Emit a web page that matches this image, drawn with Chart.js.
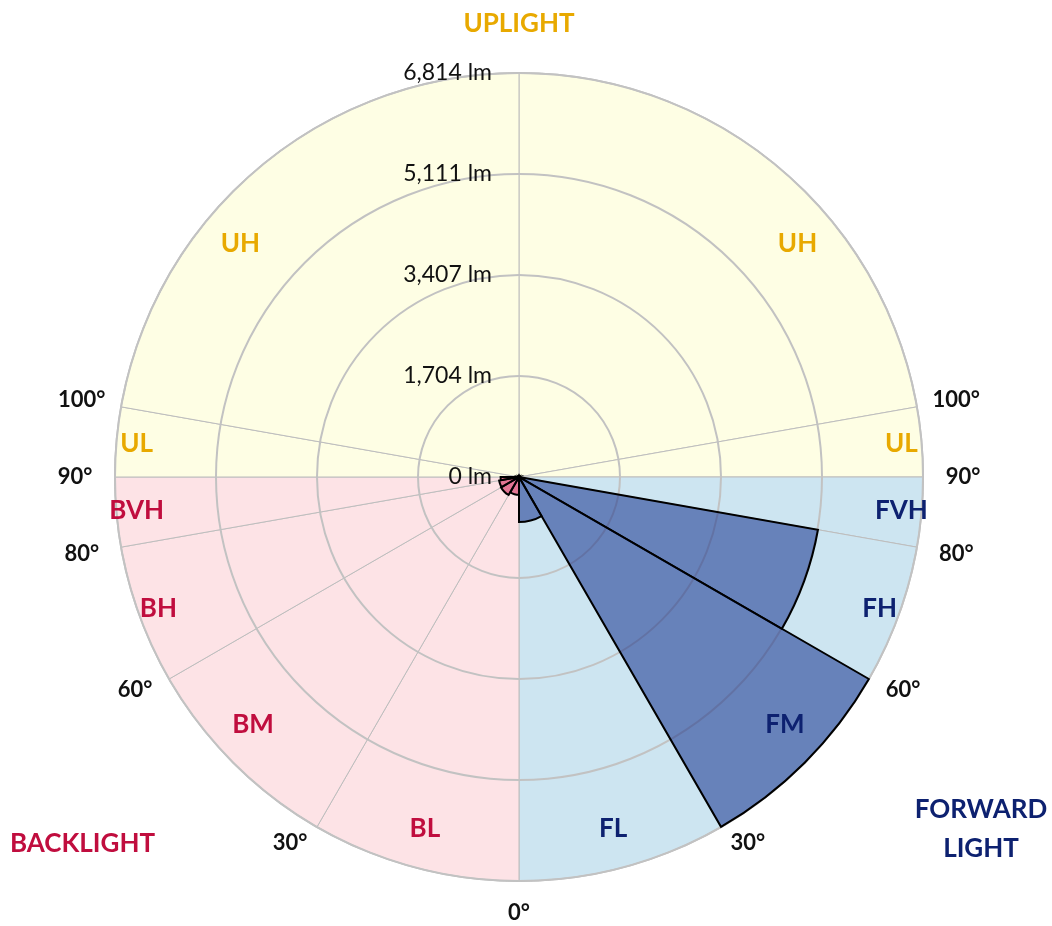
<!DOCTYPE html>
<html>
<head>
<meta charset="utf-8">
<script src="https://cdn.jsdelivr.net/npm/chart.js@4"></script>
<style>
  html, body { margin: 0; padding: 0; background: #fff; }
  #wrap { width: 1052px; height: 926px; position: relative; }
</style>
</head>
<body>
<div id="wrap"><canvas id="bugChart"></canvas></div>
<script>
// zones clockwise from the top of the chart (right side first, then left side)
const zoneNames = ["UH", "UL", "FVH", "FH", "FM", "FL", "BL", "BM", "BH", "BVH", "UL", "UH"];
const zoneAngles = [80, 10, 10, 20, 30, 30, 30, 30, 20, 10, 10, 80];
const lumens = [0, 0, 0, 5120, 6814, 760, 300, 350, 340, 310, 0, 0];
const maxLumens = 6814;
const tickLabels = ["0 lm", "1,704 lm", "3,407 lm", "5,111 lm", "6,814 lm"];
const degreeMarks = [0, 30, 60, 80, 90, 100];

// colours per group (first letter of zone)
const zoneFill = { U: "#fefee4", F: "#cde5f1", B: "#fde3e6" };
const dataFill = { U: "rgba(230,170,0,0.55)", F: "rgba(20,50,140,0.55)", B: "rgba(205,30,80,0.55)" };
const textColor = { U: "#e8a900", F: "#0d2170", B: "#c00d3e" };
// label shift in photometric degrees (+ = further from nadir)
const labelNudge = { UH: -10, FM: 2, BM: 2 };
// [angle shift, radius shift] for the degree marks
const degNudge = { 0: [0, -8], 30: [2, -12], 60: [1, -5] };
const FONT = "Lato, 'Open Sans', sans-serif";

const grp = (i) => zoneNames[i][0];

// ---------------------------------------------------------

const textPlugin = {
  id: "bugText",
  afterDatasetDraw(chart, args) {
    // rings over the zone backgrounds but under the lumen wedges
    if (args.index === 1) chart.scales.r.drawGrid(chart.chartArea);
  },
  afterDraw(chart) {
    const ctx = chart.ctx;
    const r = chart.scales.r;
    const cx = r.xCenter, cy = r.yCenter, R = r.drawingArea;
    const at = (deg, rad) => {
      const a = deg * Math.PI / 180;
      return [cx + rad * Math.sin(a), cy - rad * Math.cos(a)];
    };
    ctx.save();
    ctx.textBaseline = "middle";

    // tick labels along the top vertical
    ctx.font = "23px " + FONT;
    ctx.fillStyle = "#111";
    ctx.textAlign = "right";
    r.ticks.forEach((t, i) => {
      ctx.fillText(tickLabels[i], cx - 27, cy - r.getDistanceFromCenterForValue(t.value));
    });

    // degree marks (photometric angle from nadir), both sides
    ctx.font = "bold 22px " + FONT;
    ctx.textAlign = "center";
    degreeMarks.forEach((d) => {
      const [da, dr] = degNudge[d] || [0, 0];
      const sides = d === 0 ? [180] : [180 - d - da, 180 + d + da];
      sides.forEach((a) => {
        const [x, y] = at(a, R + 40 + dr);
        ctx.fillText(d + "°", x, y);
      });
    });

    // zone names
    ctx.font = "bold 26px " + FONT;
    let start = 0;
    zoneNames.forEach((name, i) => {
      let mid = start + zoneAngles[i] / 2;
      const n = labelNudge[name] || 0;
      mid += mid < 180 ? -n : n;
      const k = zoneAngles[i] >= 30 ? 0.9 : 0.95;
      const [x, y] = at(mid, R * k);
      ctx.fillStyle = textColor[grp(i)];
      ctx.fillText(name, x, y);
      start += zoneAngles[i];
    });

    // group titles
    ctx.fillStyle = textColor.U;
    ctx.fillText("UPLIGHT", cx, cy - R - 49);
    ctx.fillStyle = textColor.B;
    ctx.textAlign = "left";
    ctx.fillText("BACKLIGHT", 10, 844);
    ctx.fillStyle = textColor.F;
    ctx.textAlign = "center";
    ctx.fillText("FORWARD", 981, 810);
    ctx.fillText("LIGHT", 981, 849);
    ctx.restore();
  },
};

// ---------------------------------------------------------

const bugChart = new Chart(document.getElementById("bugChart"), {
  type: "polarArea",
  data: {
    labels: zoneNames,
    datasets: [
      {
        label: "Lumens",
        data: lumens,
        order: 0,
        angle: (c) => zoneAngles[c.dataIndex],
        backgroundColor: (c) => dataFill[grp(c.dataIndex)],
        borderColor: "#000",
        borderWidth: (c) => (lumens[c.dataIndex] > 0 ? 2 : 0),
        borderJoinStyle: "miter",
      },
      {
        label: "Zones",
        data: zoneNames.map(() => maxLumens),
        order: 1,
        angle: (c) => zoneAngles[c.dataIndex],
        backgroundColor: (c) => zoneFill[grp(c.dataIndex)],
        borderColor: "#bdbdbd",
        borderWidth: 1,
      },
    ],
  },
  options: {
    responsive: true,
    maintainAspectRatio: false,
    animation: false,
    layout: { padding: { left: 115, right: 129, top: 73, bottom: 45 } },
    plugins: { legend: { display: false }, tooltip: { enabled: false } },
    scales: {
      r: {
        min: 0,
        max: maxLumens,
        startAngle: 0,
        ticks: { display: false, stepSize: maxLumens / 4 },
        grid: { circular: true, color: "#c2c2c2", lineWidth: 2 },
        angleLines: { display: false },
        pointLabels: { display: false },
      },
    },
  },
  plugins: [textPlugin],
});
</script>
</body>
</html>
